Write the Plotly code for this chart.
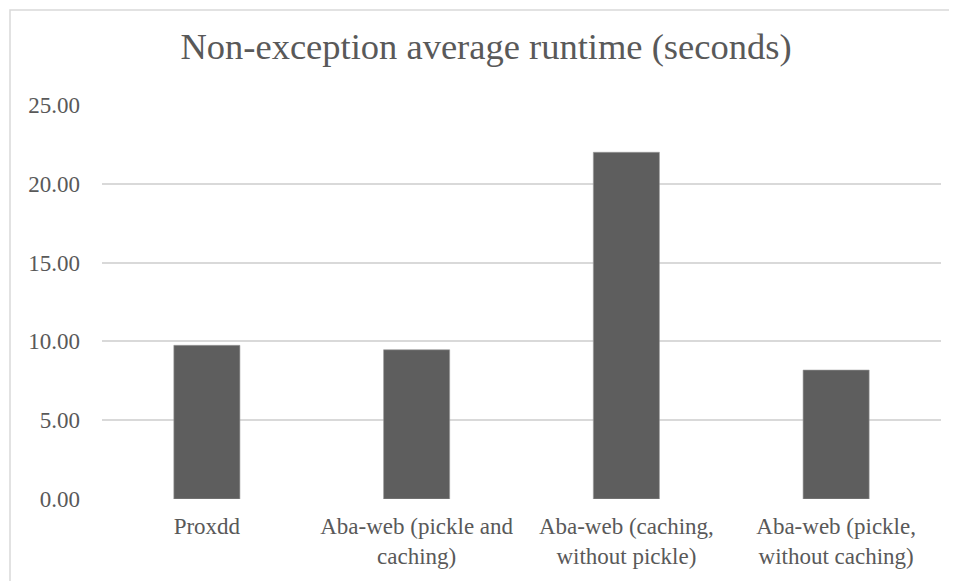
import plotly.graph_objects as go

categories = [
    "Proxdd",
    "Aba-web (pickle and<br>caching)",
    "Aba-web (caching,<br>without pickle)",
    "Aba-web (pickle,<br>without caching)",
]
runtimes = [9.75, 9.47, 22.0, 8.18]
y_ticks = [0, 5, 10, 15, 20, 25]
y_tick_labels = ["0.00", "5.00", "10.00", "15.00", "20.00", "25.00"]

W, H = 957, 581
OFF = 8  # page body offset
L, R, T, B = 102 - OFF, 16 + OFF, 105 - OFF, 82 + OFF
pw = W - L - R
ph = H - T - B

fig = go.Figure()
fig.add_trace(go.Bar(
    x=categories,
    y=runtimes,
    marker=dict(color="#5e5e5e", line=dict(color="#9a9a9a", width=0.6)),
))

bx0, by0 = 10 - OFF, 10 - OFF  # border corner in figure pixels

fig.update_layout(
    width=W,
    height=H,
    margin=dict(l=L, r=R, t=T, b=B, autoexpand=False),
    paper_bgcolor="white",
    plot_bgcolor="white",
    bargap=0.685,
    showlegend=False,
    font=dict(family="Liberation Serif, Times New Roman, serif", color="#595959", size=22),
    title=dict(
        text="Non-exception average runtime (seconds)",
        x=(486 - OFF) / W,
        xanchor="center",
        y=1 - (46 - OFF) / H,
        yanchor="middle",
        font=dict(size=36.5, color="#595959", family="Liberation Serif, serif"),
    ),
    xaxis=dict(
        showline=False,
        showgrid=False,
        ticks="",
        tickfont=dict(size=23),
        ticklabelstandoff=11,
    ),
    yaxis=dict(
        range=[0, 25],
        tickvals=y_ticks,
        ticktext=y_tick_labels,
        showgrid=True,
        gridcolor="#d9d9d9",
        gridwidth=1.5,
        zeroline=False,
        showline=False,
        ticks="",
        tickfont=dict(size=23),
        ticklabelstandoff=21,
    ),
    shapes=[
        dict(
            type="rect",
            xref="paper", yref="paper",
            x0=(bx0 - L) / pw, x1=(W + 20 - L) / pw,
            y0=-(H + 20 - (T + ph)) / ph, y1=(T + ph - by0) / ph,
            line=dict(color="#d9d9d9", width=1.5),
            fillcolor="rgba(0,0,0,0)",
            layer="below",
        )
    ],
)

fig.write_html("out.html")
